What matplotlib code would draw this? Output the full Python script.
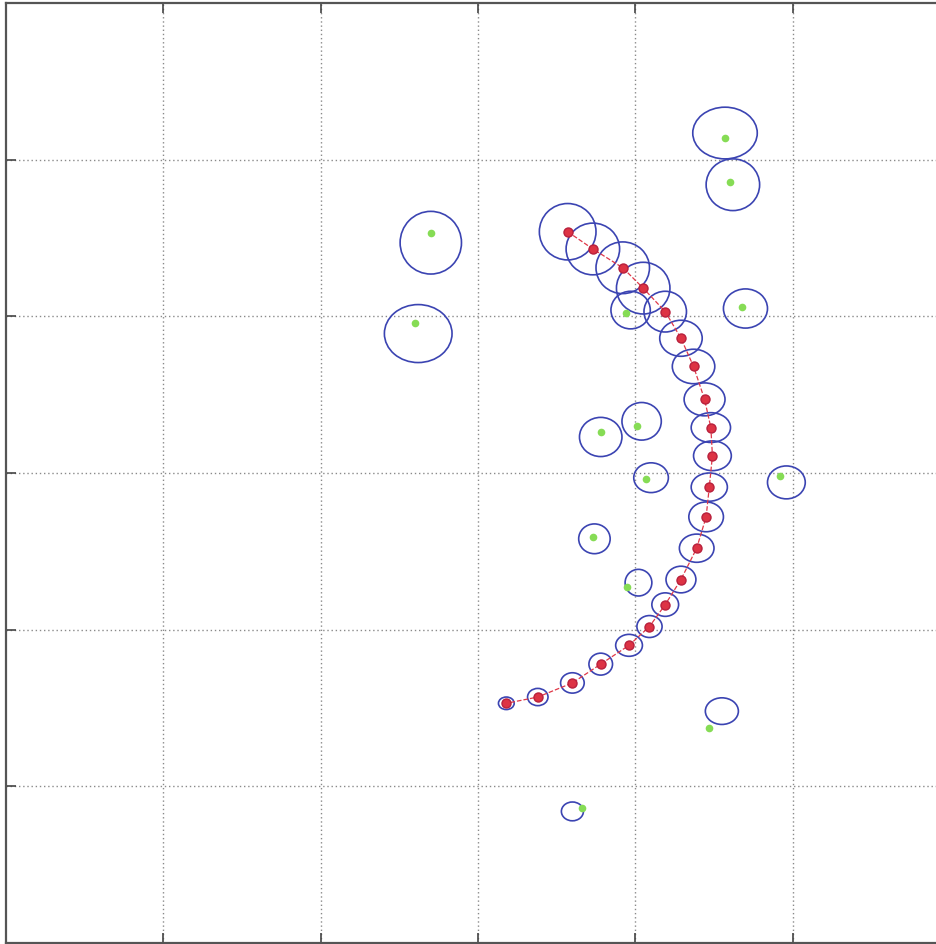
import matplotlib
matplotlib.use("Agg")
import matplotlib.pyplot as plt
from matplotlib.patches import Ellipse

# vehicle path estimate (x, y) and its covariance ellipse sizes (width, height)
path_x = [35.7, 37.3, 39.2, 40.5, 41.9, 42.9, 43.7, 44.4, 44.8, 44.9, 44.7,
          44.5, 43.9, 42.9, 41.9, 40.9, 39.6, 37.8, 36.0, 33.8, 31.8]
path_y = [45.4, 44.3, 43.1, 41.8, 40.3, 38.6, 36.8, 34.7, 32.9, 31.1, 29.1,
          27.2, 25.2, 23.2, 21.6, 20.2, 19.0, 17.8, 16.6, 15.7, 15.3]
path_w = [3.6, 3.4, 3.4, 3.4, 2.7, 2.7, 2.7, 2.6, 2.5, 2.4, 2.3,
          2.2, 2.2, 1.9, 1.7, 1.6, 1.7, 1.5, 1.5, 1.3, 1.0]
path_h = [3.6, 3.3, 3.3, 3.3, 2.6, 2.3, 2.2, 2.1, 1.9, 1.9, 1.8,
          1.9, 1.8, 1.7, 1.5, 1.4, 1.4, 1.4, 1.3, 1.1, 0.8]

# true landmark positions
lm_x = [45.7, 46.0, 27.0, 26.0, 39.4, 46.8, 37.8, 40.1, 40.7, 49.2, 37.3, 39.5, 44.7, 36.6]
lm_y = [51.4, 48.6, 45.3, 39.6, 40.2, 40.6, 32.6, 33.0, 29.6, 29.8, 25.9, 22.7, 13.7, 8.6]

# estimated landmark positions and ellipse sizes
est_x = [45.7, 46.2, 27.0, 26.2, 39.7, 47.0, 37.8, 40.4, 41.0, 49.6, 37.4, 40.2, 45.5, 36.0]
est_y = [51.7, 48.4, 44.7, 38.9, 40.4, 40.5, 32.3, 33.3, 29.7, 29.4, 25.8, 23.0, 14.8, 8.4]
est_w = [4.1, 3.4, 3.9, 4.3, 2.5, 2.8, 2.7, 2.5, 2.2, 2.4, 2.0, 1.7, 2.1, 1.4]
est_h = [3.3, 3.3, 4.0, 3.7, 2.4, 2.5, 2.5, 2.4, 1.9, 2.1, 1.9, 1.7, 1.7, 1.2]

ticks = [10, 20, 30, 40, 50]

fig = plt.figure(figsize=(9.37, 9.44), dpi=100)
ax = fig.add_axes([6 / 937, 1 / 944, 944 / 937, 940 / 944])

ell_color = '#3b44b2'
for x, y, w, h in zip(est_x, est_y, est_w, est_h):
    ax.add_patch(Ellipse((x, y), w, h, fill=False, ec=ell_color, lw=1.2, zorder=3))
for x, y, w, h in zip(path_x, path_y, path_w, path_h):
    ax.add_patch(Ellipse((x, y), w, h, fill=False, ec=ell_color, lw=1.2, zorder=3))

ax.plot(lm_x, lm_y, 'o', ms=5.5, color='#86dc55', mec='none', zorder=4)
ax.plot(path_x, path_y, '--', color='#e03848', lw=0.9, zorder=4)
ax.plot(path_x, path_y, 'o', ms=6.5, mfc='#dd3344', mec='#b8203c', mew=1, zorder=5)

ax.set_xlim(0, 60)
ax.set_ylim(0, 60)
ax.set_xticks(ticks)
ax.set_yticks(ticks)
ax.set_xticklabels([])
ax.set_yticklabels([])
ax.tick_params(direction='in', length=7, width=1.2, color='#444444',
               top=True, right=True)
ax.grid(True, linestyle=(0, (1, 2)), color='#8a8a8a', lw=1)
for s in ax.spines.values():
    s.set_color('#555555')
    s.set_linewidth(1.6)

fig.savefig('out.png', dpi=100)
